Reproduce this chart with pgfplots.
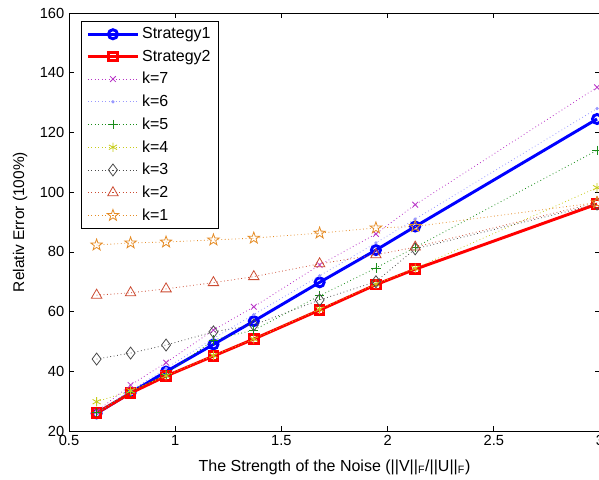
\documentclass[border=0pt]{standalone}
\usepackage{pgfplots}
\pgfplotsset{compat=1.18}
\usepackage{fontspec}
\setmainfont{Liberation Sans}
\usetikzlibrary{plotmarks}

\definecolor{kseven}{rgb}{0.72,0.2,0.78}
\definecolor{ksix}{rgb}{0.6,0.6,1}
\definecolor{kfive}{rgb}{0.1,0.55,0.1}
\definecolor{kfour}{rgb}{0.78,0.8,0.1}
\definecolor{kthree}{rgb}{0.3,0.3,0.3}
\definecolor{ktwo}{rgb}{0.8,0.3,0.2}
\definecolor{kone}{rgb}{0.9,0.55,0.15}

\pgfdeclareplotmark{pentagram}{%
 \pgfpathmoveto{\pgfpointpolar{90}{\pgfplotmarksize}}%
 \pgfpathlineto{\pgfpointscale{0.4}{\pgfpointpolar{126}{\pgfplotmarksize}}}%
 \pgfpathlineto{\pgfpointpolar{162}{\pgfplotmarksize}}%
 \pgfpathlineto{\pgfpointscale{0.4}{\pgfpointpolar{198}{\pgfplotmarksize}}}%
 \pgfpathlineto{\pgfpointpolar{234}{\pgfplotmarksize}}%
 \pgfpathlineto{\pgfpointscale{0.4}{\pgfpointpolar{270}{\pgfplotmarksize}}}%
 \pgfpathlineto{\pgfpointpolar{306}{\pgfplotmarksize}}%
 \pgfpathlineto{\pgfpointscale{0.4}{\pgfpointpolar{342}{\pgfplotmarksize}}}%
 \pgfpathlineto{\pgfpointpolar{18}{\pgfplotmarksize}}%
 \pgfpathlineto{\pgfpointscale{0.4}{\pgfpointpolar{54}{\pgfplotmarksize}}}%
 \pgfpathclose
 \pgfusepathqstroke}

\begin{document}
\begin{tikzpicture}
\begin{axis}[
 name=ax,
 scale only axis, width=398.25pt, height=313.5pt,
 xmin=0.5, xmax=3, ymin=20, ymax=160,
 xtick={0.5,1,1.5,2,2.5,3}, ytick={20,40,60,80,100,120,140,160},
 /pgf/number format/assume math mode=true,
 tick align=inside, major tick length=4pt,
 tick style={black, line width=0.5pt},
 axis line style={line width=0.6pt},
 clip mode=individual,
 font=\fontsize{11}{13}\selectfont,
 xlabel={The Strength of the Noise (||V||\textsubscript{F}/||U||\textsubscript{F})},
 ylabel={Relativ Error (100\%)},
 xlabel style={at={(axis description cs:0.5,-0.096)}, anchor=base, font=\fontsize{12}{14}\selectfont},
 ylabel style={at={(axis description cs:-0.092,0.5)}, anchor=center, font=\fontsize{11.6}{14}\selectfont},
 legend cell align=left,
 legend style={at={(0.022,0.982)}, anchor=north west, draw=black, line width=0.7pt,
   font=\fontsize{12}{14}\selectfont, row sep=2.85pt, inner xsep=4pt, inner ysep=3pt},
 legend image code/.code={\draw[mark repeat=2,mark phase=2,#1] plot coordinates {(0pt,0pt) (18.75pt,0pt) (37.5pt,0pt)};},
]
\addplot[blue, line width=2.2pt, mark=o, mark size=3.4pt, mark options={solid}] coordinates {
 (0.63,25.9) (0.79,32.8) (0.957,39.9) (1.18,49.0) (1.37,56.8) (1.68,69.8) (1.945,80.6) (2.13,88.5) (2.986,124.5)};
\addlegendentry{Strategy1}
\addplot[red, line width=2.2pt, mark=square, mark size=3.2pt, mark options={solid}] coordinates {
 (0.63,26.0) (0.79,32.7) (0.957,38.4) (1.18,45.1) (1.37,50.8) (1.68,60.5) (1.945,69.0) (2.13,74.2) (2.986,96.0)};
\addlegendentry{Strategy2}
\addplot[kseven, dotted, line width=0.6pt, mark=x, mark size=3pt, mark options={solid}] coordinates {
 (0.63,26.5) (0.79,35.4) (0.957,42.9) (1.18,53.8) (1.37,61.6) (1.68,75.6) (1.945,86.0) (2.13,95.8) (2.986,135.1)};
\addlegendentry{k=7}
\addplot[ksix, dotted, line width=0.6pt, mark=*, mark size=0.9pt, mark options={solid}] coordinates {
 (0.63,26.0) (0.79,33.5) (0.957,41.0) (1.18,51.0) (1.37,59.0) (1.68,72.0) (1.945,83.0) (2.13,91.0) (2.986,128.0)};
\addlegendentry{k=6}
\addplot[kfive, dotted, line width=0.6pt, mark=+, mark size=3.5pt, mark options={solid}] coordinates {
 (0.63,26.2) (0.79,33.0) (0.957,39.0) (1.18,50.5) (1.37,53.8) (1.68,65.3) (1.945,74.6) (2.13,81.5) (2.986,114.0)};
\addlegendentry{k=5}
\addplot[kfour, dotted, line width=0.6pt, mark=asterisk, mark size=3.5pt, mark options={solid}] coordinates {
 (0.63,29.8) (0.79,33.5) (0.957,38.5) (1.18,45.3) (1.37,50.8) (1.68,60.8) (1.945,69.2) (2.13,74.5) (2.986,101.5)};
\addlegendentry{k=4}
\addplot[kthree, dotted, line width=0.6pt, mark=diamond, mark size=4.5pt, mark options={solid}] coordinates {
 (0.63,44.1) (0.79,46.1) (0.957,48.8) (1.18,53.2) (1.37,55.5) (1.68,63.9) (1.945,70.0) (2.13,81.0) (2.986,96.0)};
\addlegendentry{k=3}
\addplot[ktwo, dotted, line width=0.6pt, mark=triangle, mark size=4.5pt, mark options={solid}] coordinates {
 (0.63,65.5) (0.79,66.3) (0.957,67.6) (1.18,69.7) (1.37,71.7) (1.68,76.0) (1.945,79.0) (2.13,81.6) (2.986,96.5)};
\addlegendentry{k=2}
\addplot[kone, dotted, line width=0.6pt, mark=pentagram, mark size=4.5pt, mark options={solid}] coordinates {
 (0.63,82.3) (0.79,83.0) (0.957,83.3) (1.18,84.0) (1.37,84.6) (1.68,86.3) (1.945,88.0) (2.13,88.5) (2.986,96.5)};
\addlegendentry{k=1}
\end{axis}
\pgfresetboundingbox
\useasboundingbox ([xshift=-51.75pt,yshift=-36pt]ax.south west) rectangle ([xshift=-0.75pt,yshift=9.75pt]ax.north east);
\end{tikzpicture}
\end{document}
